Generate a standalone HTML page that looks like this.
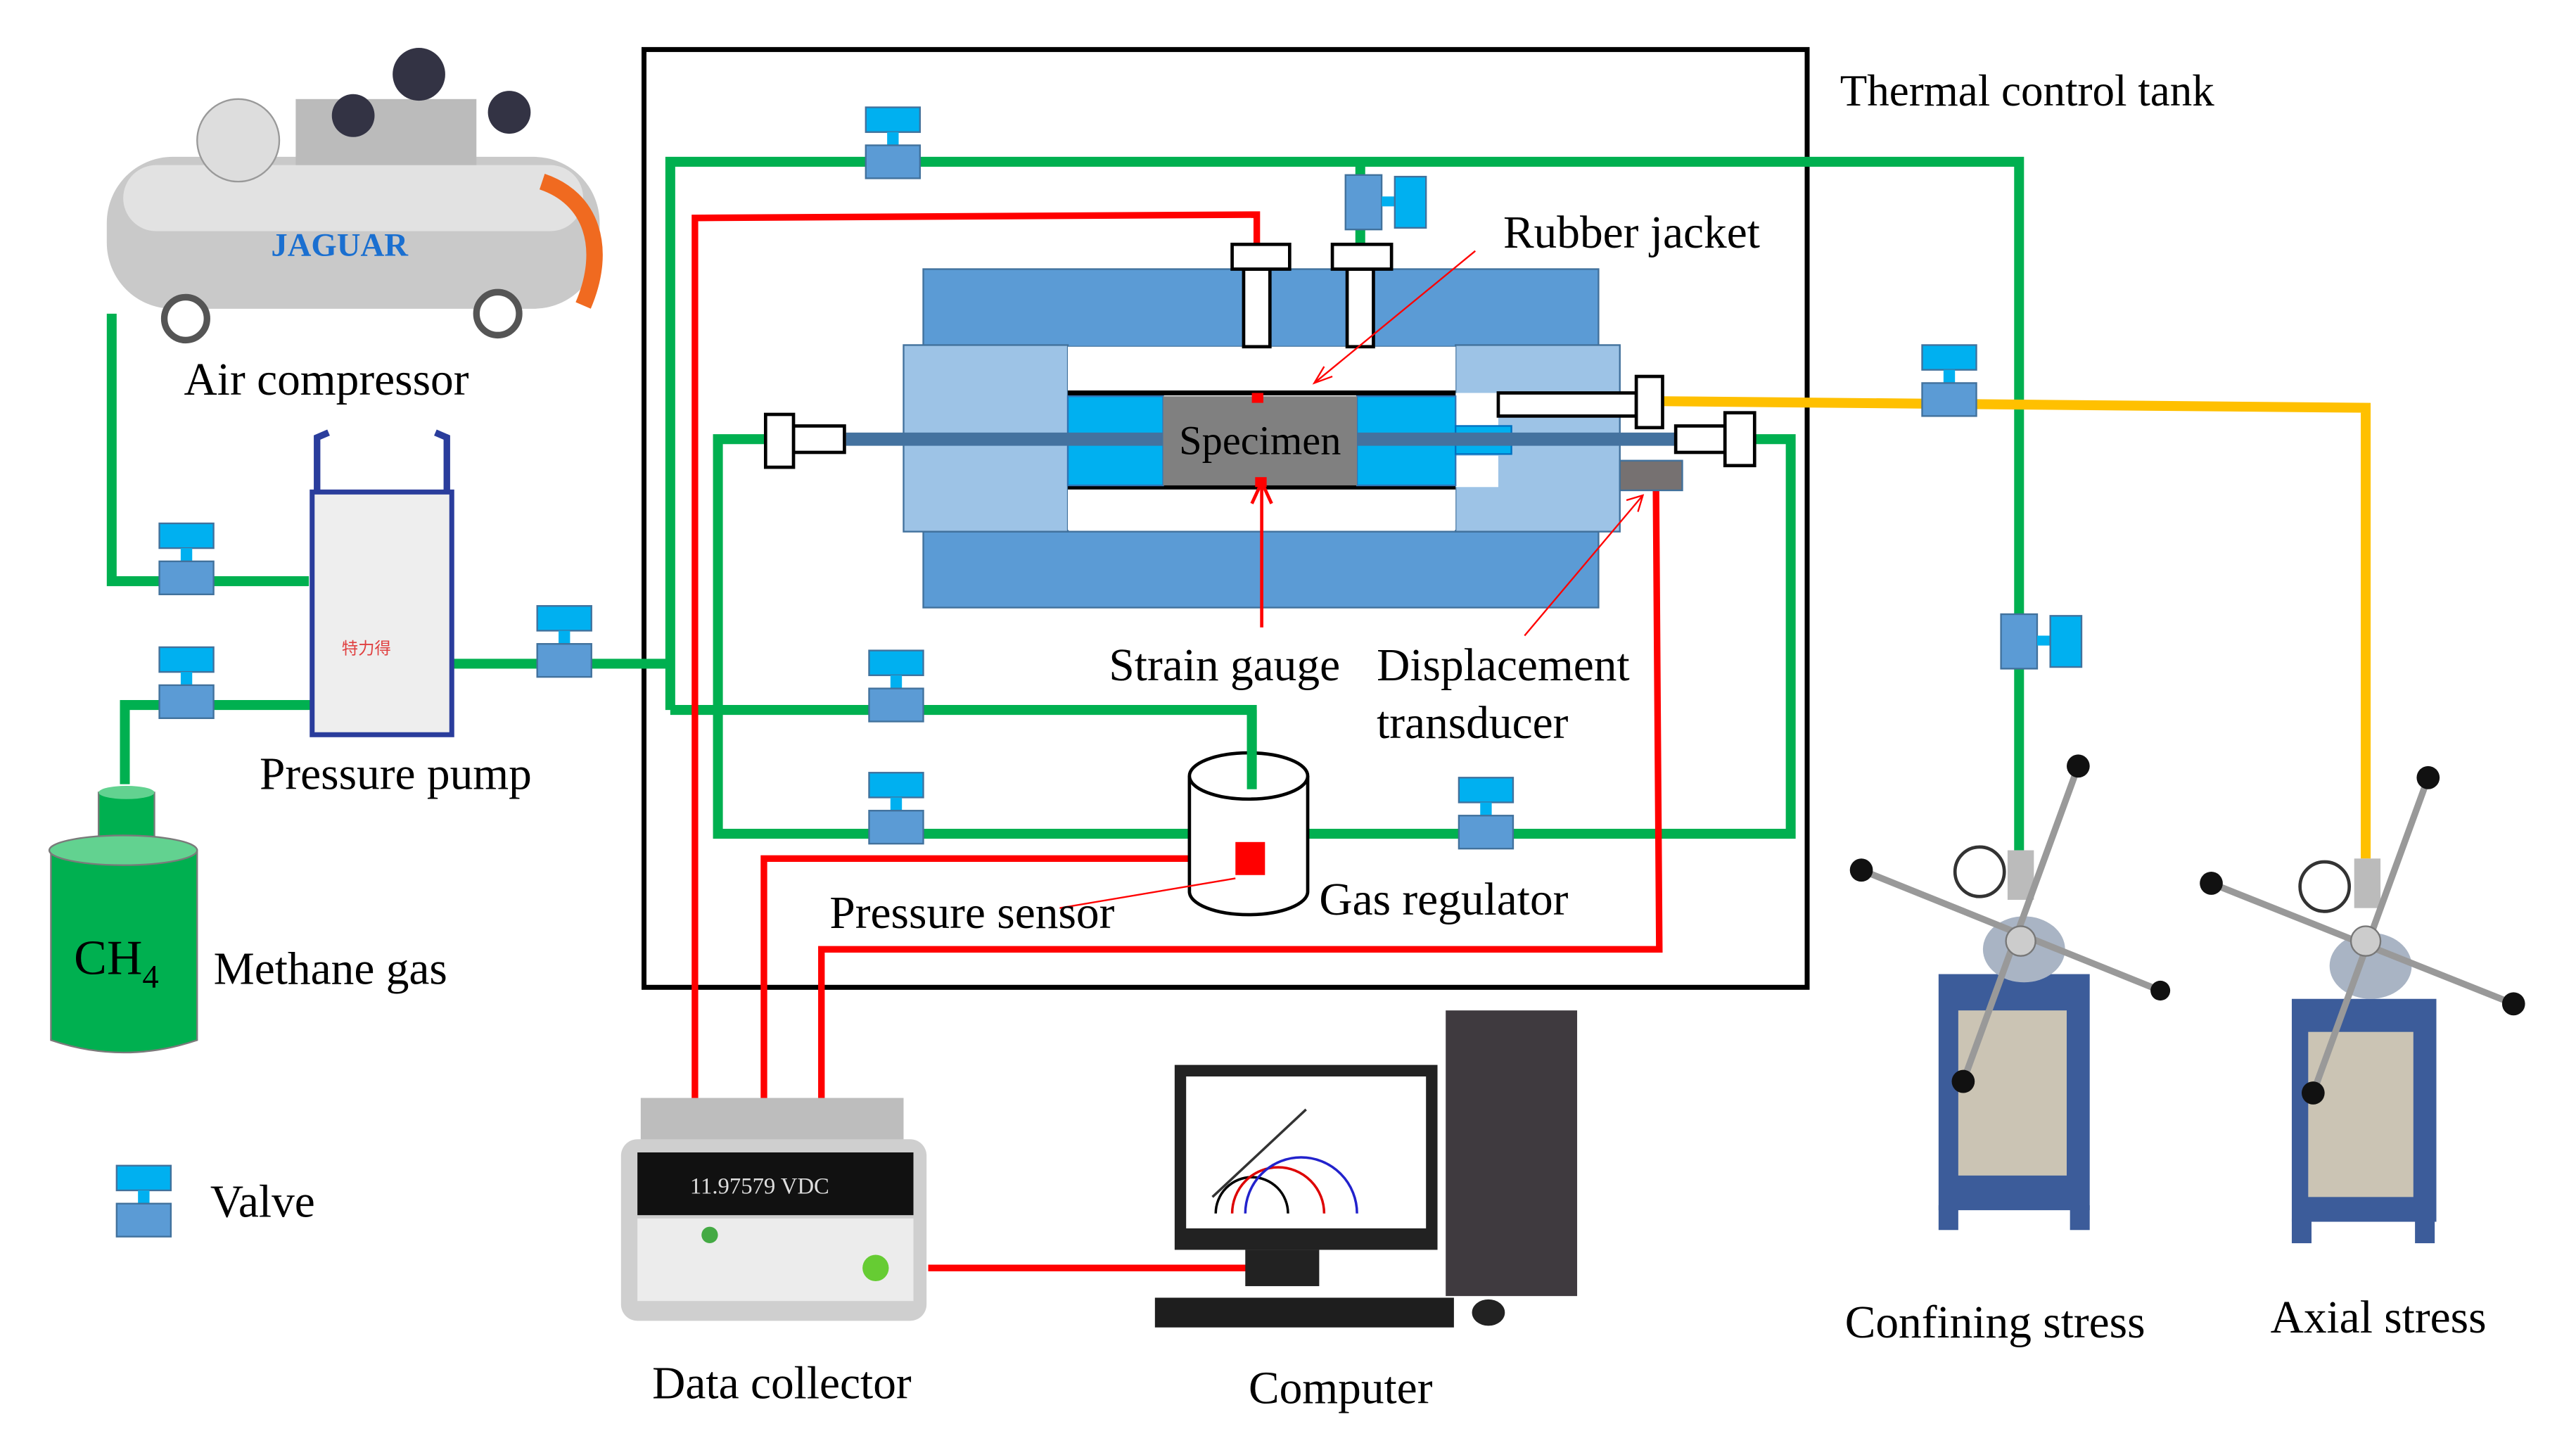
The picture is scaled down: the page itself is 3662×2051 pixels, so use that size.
<!DOCTYPE html>
<html><head><meta charset="utf-8"><style>
html,body{margin:0;padding:0;background:#fff}
svg{display:block}
text{font-family:"Liberation Serif",serif;fill:#000}
</style></head><body>
<svg width="3662" height="2051" viewBox="0 0 1568 874" preserveAspectRatio="none" xmlns="http://www.w3.org/2000/svg">
<defs>
<g id="valve"><rect x="0" y="0" width="33" height="15" fill="#00B0F0" stroke="#41719C" stroke-width="1"/><rect x="13" y="15" width="7" height="8" fill="#00B0F0"/><rect x="0" y="23" width="33" height="20" fill="#5B9BD5" stroke="#41719C" stroke-width="1"/></g>
<g id="valveS"><rect x="0" y="0" width="22" height="33" fill="#5B9BD5" stroke="#41719C"/><rect x="22" y="13" width="8" height="6" fill="#00B0F0"/><rect x="30" y="1" width="19" height="31" fill="#00B0F0" stroke="#41719C"/></g>
</defs>
<rect width="1568" height="874" fill="#fff"/>
<!-- tank -->
<rect x="392" y="30" width="708" height="568" fill="none" stroke="#000" stroke-width="3"/>
<text x="1120" y="64" font-size="27">Thermal control tank</text>

<!-- green lines -->
<g fill="none" stroke="#00B050" stroke-width="6">
<polyline points="275,402 408,402"/>
<polyline points="408,430 408,98 1229,98 1229,515"/>
<polyline points="408,430 762,430 762,480"/>
<polyline points="465,266 437,266 437,505 725,505"/>
<polyline points="796,505 1090,505 1090,266 1068,266"/>
<polyline points="828,98 828,150"/>
<polyline points="68,190 68,352 188,352"/>
<polyline points="76,475 76,427 190,427"/>
</g>
<!-- yellow -->
<polyline points="1012,243 1440,247 1440,520" fill="none" stroke="#FFC000" stroke-width="6"/>

<!-- red lines -->
<g fill="none" stroke="#FF0000" stroke-width="4">
<polyline points="423,667 423,132 765,130 765,242"/>
<polyline points="465,667 465,520 760,520"/>
<polyline points="500,667 500,575 1010,575 1008,297"/>
<polyline points="565,768 765,768"/>
</g>

<!-- chamber -->
<rect x="562" y="163" width="411" height="47" fill="#5B9BD5" stroke="#41719C"/>
<rect x="562" y="322" width="411" height="46" fill="#5B9BD5" stroke="#41719C"/>
<rect x="550" y="209" width="100" height="113" fill="#9DC3E6" stroke="#41719C"/>
<rect x="886" y="209" width="100" height="113" fill="#9DC3E6" stroke="#41719C"/>
<rect x="650" y="210" width="236" height="111" fill="#fff"/>
<rect x="886" y="238" width="26" height="20" fill="#fff"/>
<rect x="886" y="276" width="26" height="19" fill="#fff"/>
<line x1="650" y1="238" x2="886" y2="238" stroke="#000" stroke-width="3"/>
<line x1="650" y1="295" x2="886" y2="295" stroke="#000" stroke-width="3"/>
<rect x="650" y="240" width="58" height="54" fill="#00B0F0" stroke="#2E75B6"/>
<rect x="826" y="240" width="60" height="54" fill="#00B0F0" stroke="#2E75B6"/>
<rect x="708" y="240" width="118" height="54" fill="#808080"/>
<rect x="886" y="258" width="34" height="17" fill="#00B0F0" stroke="#0070C0"/>
<rect x="515" y="262" width="193" height="8" fill="#44729F"/>
<rect x="826" y="262" width="194" height="8" fill="#44729F"/>
<text x="767" y="275" font-size="25" text-anchor="middle">Specimen</text>
<rect x="762" y="238" width="7" height="6" fill="#f00"/>
<rect x="764" y="289" width="7" height="6" fill="#f00"/>
<!-- fittings -->
<g fill="#fff" stroke="#000" stroke-width="2">
<rect x="483" y="258" width="31" height="16"/>
<rect x="466" y="251" width="17" height="32"/>
<rect x="757" y="163" width="16" height="47"/>
<rect x="750" y="148" width="35" height="15"/>
<rect x="820" y="163" width="16" height="47"/>
<rect x="811" y="148" width="36" height="15"/>
<rect x="912" y="238" width="84" height="14"/>
<rect x="996" y="228" width="16" height="31"/>
<rect x="1020" y="258" width="30" height="16"/>
<rect x="1050" y="250" width="18" height="32"/>
</g>
<rect x="986" y="279" width="38" height="18" fill="#767171" stroke="#41719C"/>

<!-- valves -->
<use href="#valve" x="527" y="65"/>
<use href="#valveS" x="819" y="106"/>
<use href="#valve" x="1170" y="209"/>
<use href="#valveS" x="1218" y="372"/>
<use href="#valve" x="327" y="367"/>
<use href="#valve" x="529" y="394"/>
<use href="#valve" x="529" y="468"/>
<use href="#valve" x="888" y="471"/>
<use href="#valve" x="97" y="317"/>
<use href="#valve" x="97" y="392"/>
<use href="#valve" x="71" y="706"/>

<!-- gas regulator -->
<path d="M724,470 L724,540 A36,14 0 0 0 796,540 L796,470" fill="#fff" stroke="#000" stroke-width="2"/>
<ellipse cx="760" cy="470" rx="36" ry="14" fill="#fff" stroke="#000" stroke-width="2"/>
<line x1="762" y1="430" x2="762" y2="478" stroke="#00B050" stroke-width="6"/>
<rect x="752" y="510" width="18" height="20" fill="#f00"/>

<!-- leaders -->
<g stroke="#f00" stroke-width="1" fill="none">
<line x1="898" y1="152" x2="800" y2="232"/><polyline points="806,222 800,232 811,228"/>
<line x1="768" y1="380" x2="768" y2="292" stroke-width="2"/><polyline points="762,305 768,292 774,305" stroke-width="2"/>
<line x1="928" y1="385" x2="1000" y2="300"/><polyline points="990,303 1000,300 997,310"/>
<line x1="645" y1="550" x2="752" y2="532"/>
</g>

<!-- labels -->
<g font-size="28">
<text x="915" y="150">Rubber jacket</text>
<text x="675" y="412">Strain gauge</text>
<text x="838" y="412">Displacement</text>
<text x="838" y="447">transducer</text>
<text x="505" y="562">Pressure sensor</text>
<text x="803" y="554">Gas regulator</text>
<text x="112" y="239">Air compressor</text>
<text x="158" y="478">Pressure pump</text>
<text x="130" y="596">Methane gas</text>
<text x="128" y="737">Valve</text>
<text x="397" y="847">Data collector</text>
<text x="760" y="850">Computer</text>
<text x="1123" y="810">Confining stress</text>
<text x="1382" y="807">Axial stress</text>
</g>

<!-- air compressor -->
<g>
<rect x="65" y="95" width="300" height="92" rx="40" fill="#c9c9c9"/>
<rect x="75" y="100" width="280" height="40" rx="20" fill="#e2e2e2"/>
<text x="165" y="155" font-size="20" font-weight="bold" fill="#1a6fd0" style="fill:#1a6fd0">JAGUAR</text>
<circle cx="145" cy="85" r="25" fill="#ddd" stroke="#999"/>
<rect x="180" y="60" width="110" height="40" fill="#bbb"/>
<circle cx="255" cy="45" r="16" fill="#334"/><circle cx="215" cy="70" r="13" fill="#334"/><circle cx="310" cy="68" r="13" fill="#334"/>
<path d="M330,110 C360,120 370,150 355,185" stroke="#f06a20" stroke-width="10" fill="none"/>
<circle cx="113" cy="193" r="13" fill="#fff" stroke="#555" stroke-width="4"/>
<circle cx="303" cy="190" r="13" fill="#fff" stroke="#555" stroke-width="4"/>
</g>
<!-- pressure pump -->
<rect x="190" y="298" width="85" height="147" fill="#eee" stroke="#2a3d9c" stroke-width="3"/>
<path d="M193,298 L193,265 L200,262 M272,298 L272,265 L265,262" stroke="#2a3d9c" stroke-width="4" fill="none"/>
<text x="208" y="396" font-size="10" style="fill:#e04040" fill="#e04040">特力得</text>
<!-- CH4 -->
<rect x="60" y="480" width="34" height="30" fill="#00B050" stroke="#7a7a7a"/>
<ellipse cx="77" cy="480" rx="17" ry="4" fill="#62d290"/>
<path d="M31,515 L31,630 Q75,645 120,630 L120,515 Z" fill="#00B050" stroke="#7a7a7a"/>
<ellipse cx="75" cy="515" rx="45" ry="9" fill="#62d290" stroke="#7a7a7a"/>
<text x="45" y="590" font-size="30">CH<tspan font-size="20" dy="8">4</tspan></text>

<!-- data collector -->
<rect x="390" y="665" width="160" height="30" fill="#bdbdbd"/>
<rect x="378" y="690" width="186" height="110" rx="10" fill="#cfcfcf"/>
<rect x="388" y="698" width="168" height="38" fill="#111"/>
<text x="420" y="723" font-size="14" style="fill:#ddd" fill="#ddd">11.97579  VDC</text>
<rect x="388" y="738" width="168" height="50" fill="#ececec"/>
<circle cx="432" cy="748" r="5" fill="#4a4"/><circle cx="533" cy="768" r="8" fill="#6c3"/>

<!-- computer -->
<rect x="715" y="645" width="160" height="112" fill="#222"/>
<rect x="722" y="652" width="146" height="92" fill="#fff"/>
<g fill="none" stroke-width="1.5">
<path d="M740,735 A22,22 0 0 1 784,735" stroke="#000"/>
<path d="M750,735 A28,28 0 0 1 806,735" stroke="#d00"/>
<path d="M758,735 A34,34 0 0 1 826,735" stroke="#22c"/>
<line x1="738" y1="725" x2="795" y2="672" stroke="#333"/>
</g>
<rect x="758" y="757" width="45" height="22" fill="#222"/>
<rect x="880" y="612" width="80" height="173" fill="#3f3a3f"/>
<rect x="703" y="786" width="182" height="18" fill="#1e1e1e"/>
<ellipse cx="906" cy="795" rx="10" ry="8" fill="#222"/>

<!-- stress machines -->
<g>
<rect x="1180" y="590" width="92" height="143" fill="#3c5c9a"/>
<rect x="1192" y="612" width="66" height="100" fill="#cbc4b4"/>
<rect x="1180" y="730" width="12" height="15" fill="#3c5c9a"/><rect x="1260" y="730" width="12" height="15" fill="#3c5c9a"/>
<rect x="1222" y="515" width="16" height="30" fill="#bbb"/>
<ellipse cx="1232" cy="575" rx="25" ry="20" fill="#a9b4c4"/>
<circle cx="1205" cy="528" r="15" fill="#fff" stroke="#333" stroke-width="2"/>
<line x1="1133" y1="527" x2="1315" y2="600" stroke="#999" stroke-width="4"/>
<line x1="1265" y1="464" x2="1195" y2="655" stroke="#999" stroke-width="4"/>
<circle cx="1133" cy="527" r="7" fill="#111"/><circle cx="1265" cy="464" r="7" fill="#111"/><circle cx="1195" cy="655" r="7" fill="#111"/><circle cx="1315" cy="600" r="6" fill="#111"/>
<circle cx="1230" cy="570" r="9" fill="#ccc" stroke="#777"/>
</g>
<g>
<rect x="1395" y="605" width="88" height="135" fill="#3c5c9a"/>
<rect x="1405" y="625" width="64" height="100" fill="#cbc4b4"/>
<rect x="1395" y="738" width="12" height="15" fill="#3c5c9a"/><rect x="1470" y="738" width="12" height="15" fill="#3c5c9a"/>
<rect x="1433" y="520" width="16" height="30" fill="#bbb"/>
<ellipse cx="1443" cy="585" rx="25" ry="20" fill="#a9b4c4"/>
<circle cx="1415" cy="537" r="15" fill="#fff" stroke="#333" stroke-width="2"/>
<line x1="1346" y1="535" x2="1530" y2="608" stroke="#999" stroke-width="4"/>
<line x1="1478" y1="471" x2="1408" y2="662" stroke="#999" stroke-width="4"/>
<circle cx="1346" cy="535" r="7" fill="#111"/><circle cx="1478" cy="471" r="7" fill="#111"/><circle cx="1408" cy="662" r="7" fill="#111"/><circle cx="1530" cy="608" r="7" fill="#111"/>
<circle cx="1440" cy="570" r="9" fill="#ccc" stroke="#777"/>
</g>
</svg>
</body></html>
